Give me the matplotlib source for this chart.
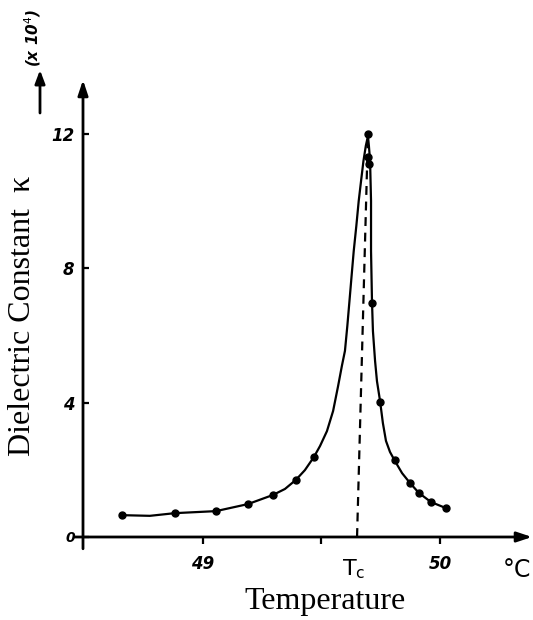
import matplotlib
matplotlib.use("Agg")
import matplotlib.pyplot as plt

# measured points (deg C, dielectric constant x 10^4)
temp_pts = [48.658, 48.882, 49.055, 49.190, 49.295, 49.392, 49.468,
            49.696, 49.696, 49.702, 49.713, 49.747, 49.810, 49.873,
            49.911, 49.962, 50.025]
kappa_pts = [0.65, 0.71, 0.77, 0.98, 1.25, 1.70, 2.38,
             12.0, 11.3, 11.1, 6.96, 4.02, 2.29, 1.61,
             1.31, 1.04, 0.86]

# hand-drawn curve
curve_t = [48.658, 48.776, 48.882, 49.055, 49.190, 49.295, 49.346, 49.392,
           49.430, 49.468, 49.494, 49.523, 49.549, 49.570, 49.586, 49.599,
           49.609, 49.618, 49.627, 49.636, 49.647, 49.657, 49.667, 49.677,
           49.687, 49.696,
           49.700, 49.705, 49.709, 49.709, 49.713, 49.717, 49.726, 49.734,
           49.747, 49.759, 49.772, 49.789, 49.810, 49.840, 49.873, 49.911,
           49.962, 50.025]
curve_k = [0.65, 0.63, 0.71, 0.77, 0.98, 1.25, 1.43, 1.70,
           1.99, 2.38, 2.71, 3.15, 3.75, 4.49, 5.09, 5.54,
           6.28, 7.02, 7.77, 8.51, 9.26, 10.0, 10.6, 11.19,
           11.64, 11.93,
           11.64, 11.19, 10.0, 8.51, 7.02, 6.13, 5.24, 4.64,
           4.05, 3.39, 2.86, 2.53, 2.26, 1.90, 1.61, 1.31,
           1.04, 0.86]

# Tc marker line (slightly slanted as drawn)
tc_t = [49.650, 49.696]
tc_k = [0.0, 12.0]

xticks = [49.0, 49.5, 50.0]
xtick_labels = ["49", "", "50"]
yticks = [0, 4, 8, 12]
ytick_labels = ["0", "4", "8", "12"]

W, H = 533, 620
XMIN, XMAX = 48.494, 50.388
YMIN, YMAX = 0.0, 13.6

fig = plt.figure(figsize=(W / 100, H / 100), dpi=100)
ax = fig.add_axes([83 / W, 83 / H, (532 - 83) / W, (537 - 80) / H])
ax.set_xlim(XMIN, XMAX)
ax.set_ylim(YMIN, YMAX)
for s in ax.spines.values():
    s.set_visible(False)

hand = dict(family="DejaVu Sans", fontweight="bold", fontstyle="italic")

ax.set_xticks(xticks)
ax.set_xticklabels(xtick_labels, fontsize=12, **hand)
ax.set_yticks(yticks)
ax.set_yticklabels(ytick_labels, fontsize=12, **hand)
ax.get_yticklabels()[0].set_fontsize(10)
ax.tick_params(axis="x", direction="out", length=5, width=1.6, pad=8)
ax.tick_params(axis="y", direction="in", length=4, width=1.6, pad=6)

# axes with arrow heads
ax.annotate("", xy=(XMAX, 0), xytext=(XMIN - 0.035, 0),
            arrowprops=dict(arrowstyle="-|>,head_length=0.9,head_width=0.3",
                            lw=2, color="black", shrinkA=0, shrinkB=0),
            annotation_clip=False)
ax.annotate("", xy=(XMIN, YMAX), xytext=(XMIN, -0.35),
            arrowprops=dict(arrowstyle="-|>,head_length=0.9,head_width=0.3",
                            lw=2, color="black", shrinkA=0, shrinkB=0),
            annotation_clip=False)

ax.plot(curve_t, curve_k, color="black", lw=1.6, zorder=3,
        solid_joinstyle="round")
ax.plot(temp_pts, kappa_pts, "o", color="black", ms=5, zorder=4)
ax.plot(tc_t, tc_k, color="black", lw=1.6, dashes=(4, 3), zorder=2)

ax.text(49.635, -0.95, "T$_\\mathregular{c}$", fontsize=16, ha="center",
        va="center", family="DejaVu Sans")
fig.text(531 / W, 1 - 570 / H, "°C", fontsize=17, ha="right", va="center",
         family="DejaVu Sans")

fig.text(325 / W, 1 - 601 / H, "Temperature", fontsize=23,
         family="Liberation Serif", ha="center", va="center")
fig.text(23 / W, 1 - 316 / H, "Dielectric Constant  κ", fontsize=23,
         family="Liberation Serif", rotation=90, ha="center", va="center")

# (x 10^4) with arrow
fig.text(33 / W, 1 - 38 / H, "(x 10$^4$)", fontsize=11, rotation=90,
         ha="center", va="center", **hand)
ax.annotate("", xy=(40, H - 70), xytext=(40, H - 113),
            xycoords="figure pixels", textcoords="figure pixels",
            arrowprops=dict(arrowstyle="-|>,head_length=0.8,head_width=0.3",
                            lw=2, color="black", shrinkA=0, shrinkB=0),
            annotation_clip=False)

fig.savefig("out.png", dpi=100)
